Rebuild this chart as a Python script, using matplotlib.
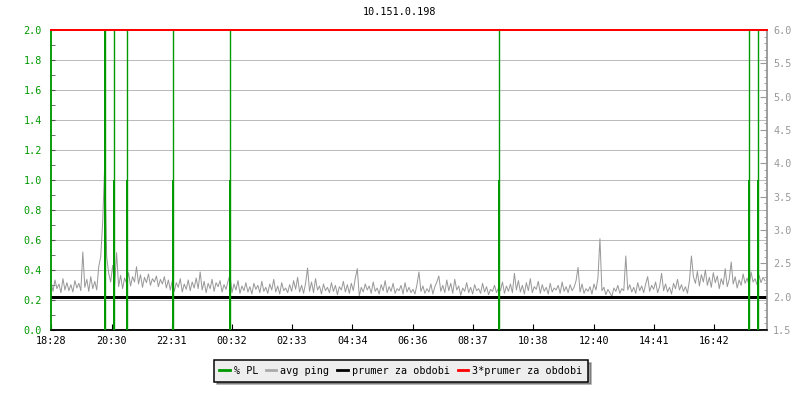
import matplotlib
matplotlib.use("Agg")
import matplotlib.pyplot as plt
from matplotlib.lines import Line2D
from matplotlib.ticker import MultipleLocator, FormatStrFormatter
import numpy as np

#---------------------------------------#
# DATA                                  #
#---------------------------------------#
TITLE = "10.151.0.198"
# x axis labels, minutes from the start of the period (18:28)
tick_minutes = [0, 122, 243, 364, 485, 606, 728, 849, 970, 1092, 1213, 1334]
tick_labels = ["18:28", "20:30", "22:31", "00:32", "02:33", "04:34",
               "06:36", "08:37", "10:38", "12:40", "14:41", "16:42"]
period_minutes = 1440
# avg ping in ms, one value every 4 minutes
ping_step = 4
avg_ping = [
    2.22, 2.08, 2.25, 2.12, 2.19, 2.06, 2.27, 2.10, 2.21, 2.09,
    2.18, 2.07, 2.24, 2.13, 2.20, 2.09, 2.67, 2.14, 2.26, 2.08,
    2.30, 2.12, 2.23, 2.10, 2.45, 2.60, 3.13, 3.98, 2.60, 2.35,
    2.22, 2.47, 2.18, 2.66, 2.15, 2.32, 2.12, 2.28, 2.20, 2.36,
    2.16, 2.30, 2.22, 2.45, 2.19, 2.33, 2.14, 2.29, 2.21, 2.34,
    2.17, 2.27, 2.22, 2.31, 2.15, 2.26, 2.19, 2.30, 2.13, 2.25,
    2.10, 2.24, 2.08, 2.21, 2.14, 2.27, 2.07, 2.19, 2.11, 2.25,
    2.09, 2.22, 2.13, 2.28, 2.12, 2.37, 2.10, 2.23, 2.06, 2.20,
    2.12, 2.26, 2.08, 2.21, 2.15, 2.24, 2.07, 2.18, 2.11, 2.23,
    2.33, 2.06, 2.19, 2.10, 2.24, 2.05, 2.16, 2.09, 2.21, 2.07,
    2.15, 2.04, 2.20, 2.11, 2.17, 2.06, 2.23, 2.08, 2.14, 2.05,
    2.19, 2.10, 2.26, 2.07, 2.16, 2.04, 2.21, 2.09, 2.13, 2.06,
    2.18, 2.08, 2.24, 2.11, 2.29, 2.07, 2.17, 2.05, 2.20, 2.43,
    2.08, 2.22, 2.06, 2.27, 2.10, 2.16, 2.04, 2.19, 2.09, 2.14,
    2.06, 2.21, 2.08, 2.17, 2.03, 2.15, 2.10, 2.23, 2.07, 2.18,
    2.05, 2.20, 2.09, 2.28, 2.42, 2.01, 2.14, 2.07, 2.19, 2.10,
    2.16, 2.05, 2.22, 2.08, 2.13, 2.04, 2.18, 2.09, 2.24, 2.06,
    2.15, 2.08, 2.20, 2.05, 2.12, 2.09, 2.17, 2.04, 2.21, 2.07,
    2.14, 2.06, 2.11, 2.04, 2.18, 2.37, 2.08, 2.16, 2.05, 2.12,
    2.07, 2.19, 2.04, 2.15, 2.22, 2.31, 2.08, 2.17, 2.06, 2.25,
    2.09, 2.20, 2.05, 2.26, 2.10, 2.16, 2.02, 2.13, 2.08, 2.21,
    2.06, 2.14, 2.04, 2.18, 2.09, 2.12, 2.05, 2.20, 2.07, 2.15,
    2.03, 2.11, 2.08, 2.17, 2.06, 2.13, 2.09, 2.22, 2.05, 2.16,
    2.08, 2.19, 2.06, 2.35, 2.10, 2.24, 2.07, 2.17, 2.04, 2.21,
    2.09, 2.27, 2.06, 2.15, 2.11, 2.23, 2.05, 2.18, 2.08, 2.14,
    2.04, 2.20, 2.07, 2.13, 2.10, 2.17, 2.05, 2.22, 2.08, 2.15,
    2.06, 2.18, 2.09, 2.14, 2.24, 2.44, 2.07, 2.19, 2.05, 2.12,
    2.08, 2.15, 2.04, 2.19, 2.10, 2.28, 2.87, 2.09, 2.14, 2.03,
    2.11, 2.06, 2.00, 2.13, 2.08, 2.17, 2.05, 2.12, 2.09, 2.61,
    2.10, 2.18, 2.07, 2.14, 2.05, 2.21, 2.09, 2.16, 2.06, 2.19,
    2.30, 2.08, 2.17, 2.11, 2.22, 2.06, 2.15, 2.35, 2.09, 2.19,
    2.07, 2.14, 2.04, 2.20, 2.12, 2.26, 2.10, 2.18, 2.08, 2.15,
    2.05, 2.24, 2.61, 2.30, 2.20, 2.38, 2.16, 2.33, 2.22, 2.40,
    2.17, 2.29, 2.14, 2.36, 2.21, 2.31, 2.12, 2.27, 2.18, 2.42,
    2.15, 2.26, 2.52, 2.19, 2.30, 2.13, 2.25, 2.17, 2.34, 2.20,
    2.28, 2.16, 2.37, 2.22, 2.27, 2.18, 2.32, 2.21, 2.29, 2.24,
]
# packet loss events (minutes from start), first and second sample in %
pl_minutes = [108, 127, 152, 246, 359, 900, 1403, 1421]
pl_first = [5, 1, 1, 1, 1, 1, 1, 1]
pl_second = [5, 5, 5, 5, 5, 5, 5, 5]
# average over the period (ms)
ping_mean = 2.0
#---------------------------------------#

#---------------------------------------#
# STYLE                                 #
#---------------------------------------#
GREEN = "#009900"
GRAY = "#999999"
RED = "#ff0000"
FONT = "DejaVu Sans Mono"
FS = 7.3
PX = 0.72  # one pixel in points at dpi 100
#---------------------------------------#

plt.rcParams["font.family"] = FONT
plt.rcParams["font.size"] = FS

fig = plt.figure(figsize=(8, 4), dpi=100)
ax = fig.add_axes([51 / 800, 70 / 400, 716 / 800, 300 / 400])
# right axis (ping) sits on top and carries all the marks,
# so the grid of the left axis stays underneath
ax2 = ax.twinx()

ax.set_xlim(0, period_minutes)
ax.set_ylim(0, 2.0)
ax2.set_ylim(1.5, 6.0)

# avg ping and the period averages
ping_minutes = np.arange(len(avg_ping)) * ping_step
ax2.plot(ping_minutes, avg_ping, color=GRAY, lw=PX, zorder=2)
ax2.axhline(ping_mean, color="black", lw=3 * PX, zorder=2.5)

# packet loss, in left axis units
ax2.vlines(pl_minutes, 0, pl_second, color=GREEN, lw=1.0,
           transform=ax.transData, zorder=3)
ax2.vlines(pl_minutes, 0, pl_first, color=GREEN, lw=2 * PX,
           transform=ax.transData, antialiased=False, zorder=3)

ax2.axhline(3 * ping_mean, color=RED, lw=2 * PX, clip_on=False, zorder=4)

# left axis
ax.yaxis.set_major_locator(MultipleLocator(0.2))
ax.yaxis.set_minor_locator(MultipleLocator(0.1))
ax.yaxis.set_major_formatter(FormatStrFormatter("%.1f"))
ax.tick_params(axis="y", which="both", direction="in", length=3,
               color="#555555", labelcolor=GREEN, pad=6.5)
ax.grid(axis="y", color="#bbbbbb", lw=PX)
ax.set_axisbelow(True)

# right axis
ax2.yaxis.set_major_locator(MultipleLocator(0.5))
ax2.yaxis.set_minor_locator(MultipleLocator(0.1))
ax2.yaxis.set_major_formatter(FormatStrFormatter("%.1f"))
ax2.tick_params(axis="y", which="major", direction="in", length=5,
                color=GRAY, labelcolor=GRAY, pad=4.5)
ax2.tick_params(axis="y", which="minor", direction="in", length=2.5,
                color=GRAY)

# x axis
ax.set_xticks(tick_minutes)
ax.set_xticklabels(tick_labels)
ax.tick_params(axis="x", direction="in", length=4, color="black", pad=4)

for a in (ax, ax2):
    a.spines["top"].set_visible(False)
    a.spines["left"].set_color(GREEN)
    a.spines["right"].set_color(GRAY)
    a.spines["bottom"].set_color("black")
    for side in ("left", "right", "bottom"):
        a.spines[side].set_linewidth(PX * 1.5)

fig.text(0.5, 1 - 12 / 400, TITLE, ha="center", va="center", fontsize=FS)

# legend under the plot
handles = [Line2D([], [], color=GREEN, lw=2),
           Line2D([], [], color="#aaaaaa", lw=2),
           Line2D([], [], color="black", lw=2),
           Line2D([], [], color=RED, lw=2)]
labels = ["% PL", "avg ping", "prumer za obdobi", "3*prumer za obdobi"]
leg = fig.legend(handles, labels, loc="center", bbox_to_anchor=(0.501, 0.0725),
                 ncol=4, handlelength=1.0, handletextpad=0.4,
                 columnspacing=0.8, fancybox=False, shadow=True,
                 framealpha=1, borderpad=0.55, fontsize=FS)
leg.get_frame().set_facecolor("#eeeeee")
leg.get_frame().set_edgecolor("black")
leg.get_frame().set_linewidth(PX * 1.5)

fig.savefig("out.png", dpi=100)
